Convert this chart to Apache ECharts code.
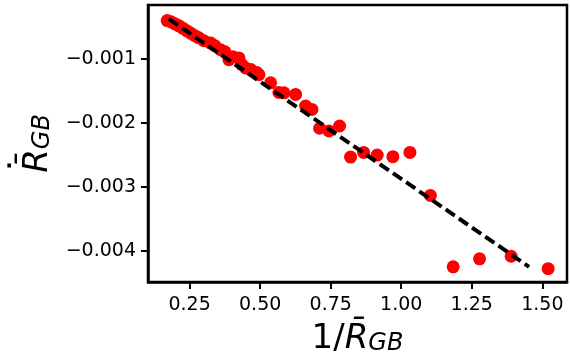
<!DOCTYPE html>
<html>
<head>
<meta charset="utf-8">
<script src="https://cdn.jsdelivr.net/npm/echarts@6/dist/echarts.min.js"></script>
<style>
html,body{margin:0;padding:0;background:#fff;}
#chart{width:570px;height:362px;}
</style>
</head>
<body>
<div id="chart"></div>
<script>
// Scatter data (x = 1/R_GB, y = dR/dt)
const xValues = [0.1706, 0.1837, 0.1979, 0.2121, 0.2263, 0.2404, 0.2546, 0.2688, 0.2830, 0.3007,
  0.3244, 0.3397, 0.3599, 0.3751, 0.3893, 0.4034, 0.4247, 0.4353, 0.4484, 0.4672,
  0.4885, 0.4956, 0.5370, 0.5664, 0.5842, 0.6256, 0.6611, 0.6834,
  0.7107, 0.7436, 0.7815, 0.8205, 0.8666, 0.9148, 0.9704, 1.0307, 1.1033,
  1.1841, 1.2776, 1.3896, 1.5207];
const yValues = [-0.000401, -0.000421, -0.000452, -0.000483, -0.000522, -0.000561, -0.000600, -0.000638, -0.000670, -0.000716,
  -0.000752, -0.000794, -0.000856, -0.000887, -0.001011, -0.000964, -0.000984, -0.001088, -0.001140, -0.001166,
  -0.001213, -0.001244, -0.001372, -0.001523, -0.001528, -0.001554, -0.001735, -0.001787,
  -0.002081, -0.002123, -0.002046, -0.002531, -0.002458, -0.002500, -0.002524, -0.002458, -0.003129,
  -0.004243, -0.004119, -0.004078, -0.004272];
// Fitted dashed line end points
const fitX = [0.1767, 1.453];
const fitY = [-0.000375, -0.004243];
// Tick values
const xTicks = [0.25, 0.50, 0.75, 1.00, 1.25, 1.50];
const yTicks = [-0.004, -0.003, -0.002, -0.001];

const scatterData = xValues.map((x, i) => [x, yValues[i]]);
const fitData = fitX.map((x, i) => [x, fitY[i]]);

const chart = echarts.init(document.getElementById('chart'), null, {renderer: 'canvas'});
const font = 'DejaVu Sans';
const nameRich = {
  r: {fontFamily: font, fontSize: 34, fontStyle: 'italic', color: '#000'},
  s: {fontFamily: font, fontSize: 24, fontStyle: 'italic', color: '#000', verticalAlign: 'bottom', padding: [10, 0, 0, 0]}
};
chart.setOption({
  animation: false,
  backgroundColor: '#ffffff',
  grid: {left: 148, top: 5, right: 3, bottom: 80, outerBoundsMode: 'none', containLabel: false,
    show: true, borderColor: '#000', borderWidth: 2.5, backgroundColor: 'transparent'},
  xAxis: {
    type: 'value', min: 0.1025, max: 1.5875,
    splitLine: {show: false},
    axisLine: {show: true, onZero: false, lineStyle: {color: '#000', width: 2.5}},
    axisTick: {show: true, customValues: xTicks, length: 7, lineStyle: {color: '#000', width: 2}},
    axisLabel: {customValues: xTicks, margin: 14, color: '#000', fontFamily: font, fontSize: 19,
      formatter: v => v.toFixed(2)},
    name: '1/{r|R̄}{s|GB}', nameLocation: 'middle', nameGap: 40,
    nameTextStyle: {fontFamily: font, fontSize: 34, color: '#000', rich: nameRich}
  },
  yAxis: {
    type: 'value', min: -0.00448, max: -0.000158,
    splitLine: {show: false},
    axisLine: {show: true, onZero: false, lineStyle: {color: '#000', width: 2.5}},
    axisTick: {show: true, customValues: yTicks, length: 7, lineStyle: {color: '#000', width: 2}},
    axisLabel: {customValues: yTicks, margin: 12, color: '#000', fontFamily: font, fontSize: 19,
      formatter: v => '\u2212' + Math.abs(v).toFixed(3)},
    name: '{r|R̄}{s|GB}', nameLocation: 'middle', nameGap: 86, nameRotate: 90,
    nameTextStyle: {fontFamily: font, fontSize: 34, color: '#000', rich: nameRich}
  },
  graphic: [
    // time-derivative dot above the R in the y-axis title
    {type: 'text', left: 8, top: 158, rotation: Math.PI / 2,
      style: {text: '\u02D9', font: 'bold 30px "DejaVu Sans"', fill: '#000'}}
  ],
  series: [
    {type: 'scatter', data: scatterData, symbol: 'circle', symbolSize: 13,
      itemStyle: {color: '#ff0000', opacity: 1}, z: 2},
    {type: 'line', data: fitData, symbol: 'none', z: 3,
      lineStyle: {color: '#000', width: 4, type: [11, 5]}}
  ]
});
</script>
</body>
</html>
